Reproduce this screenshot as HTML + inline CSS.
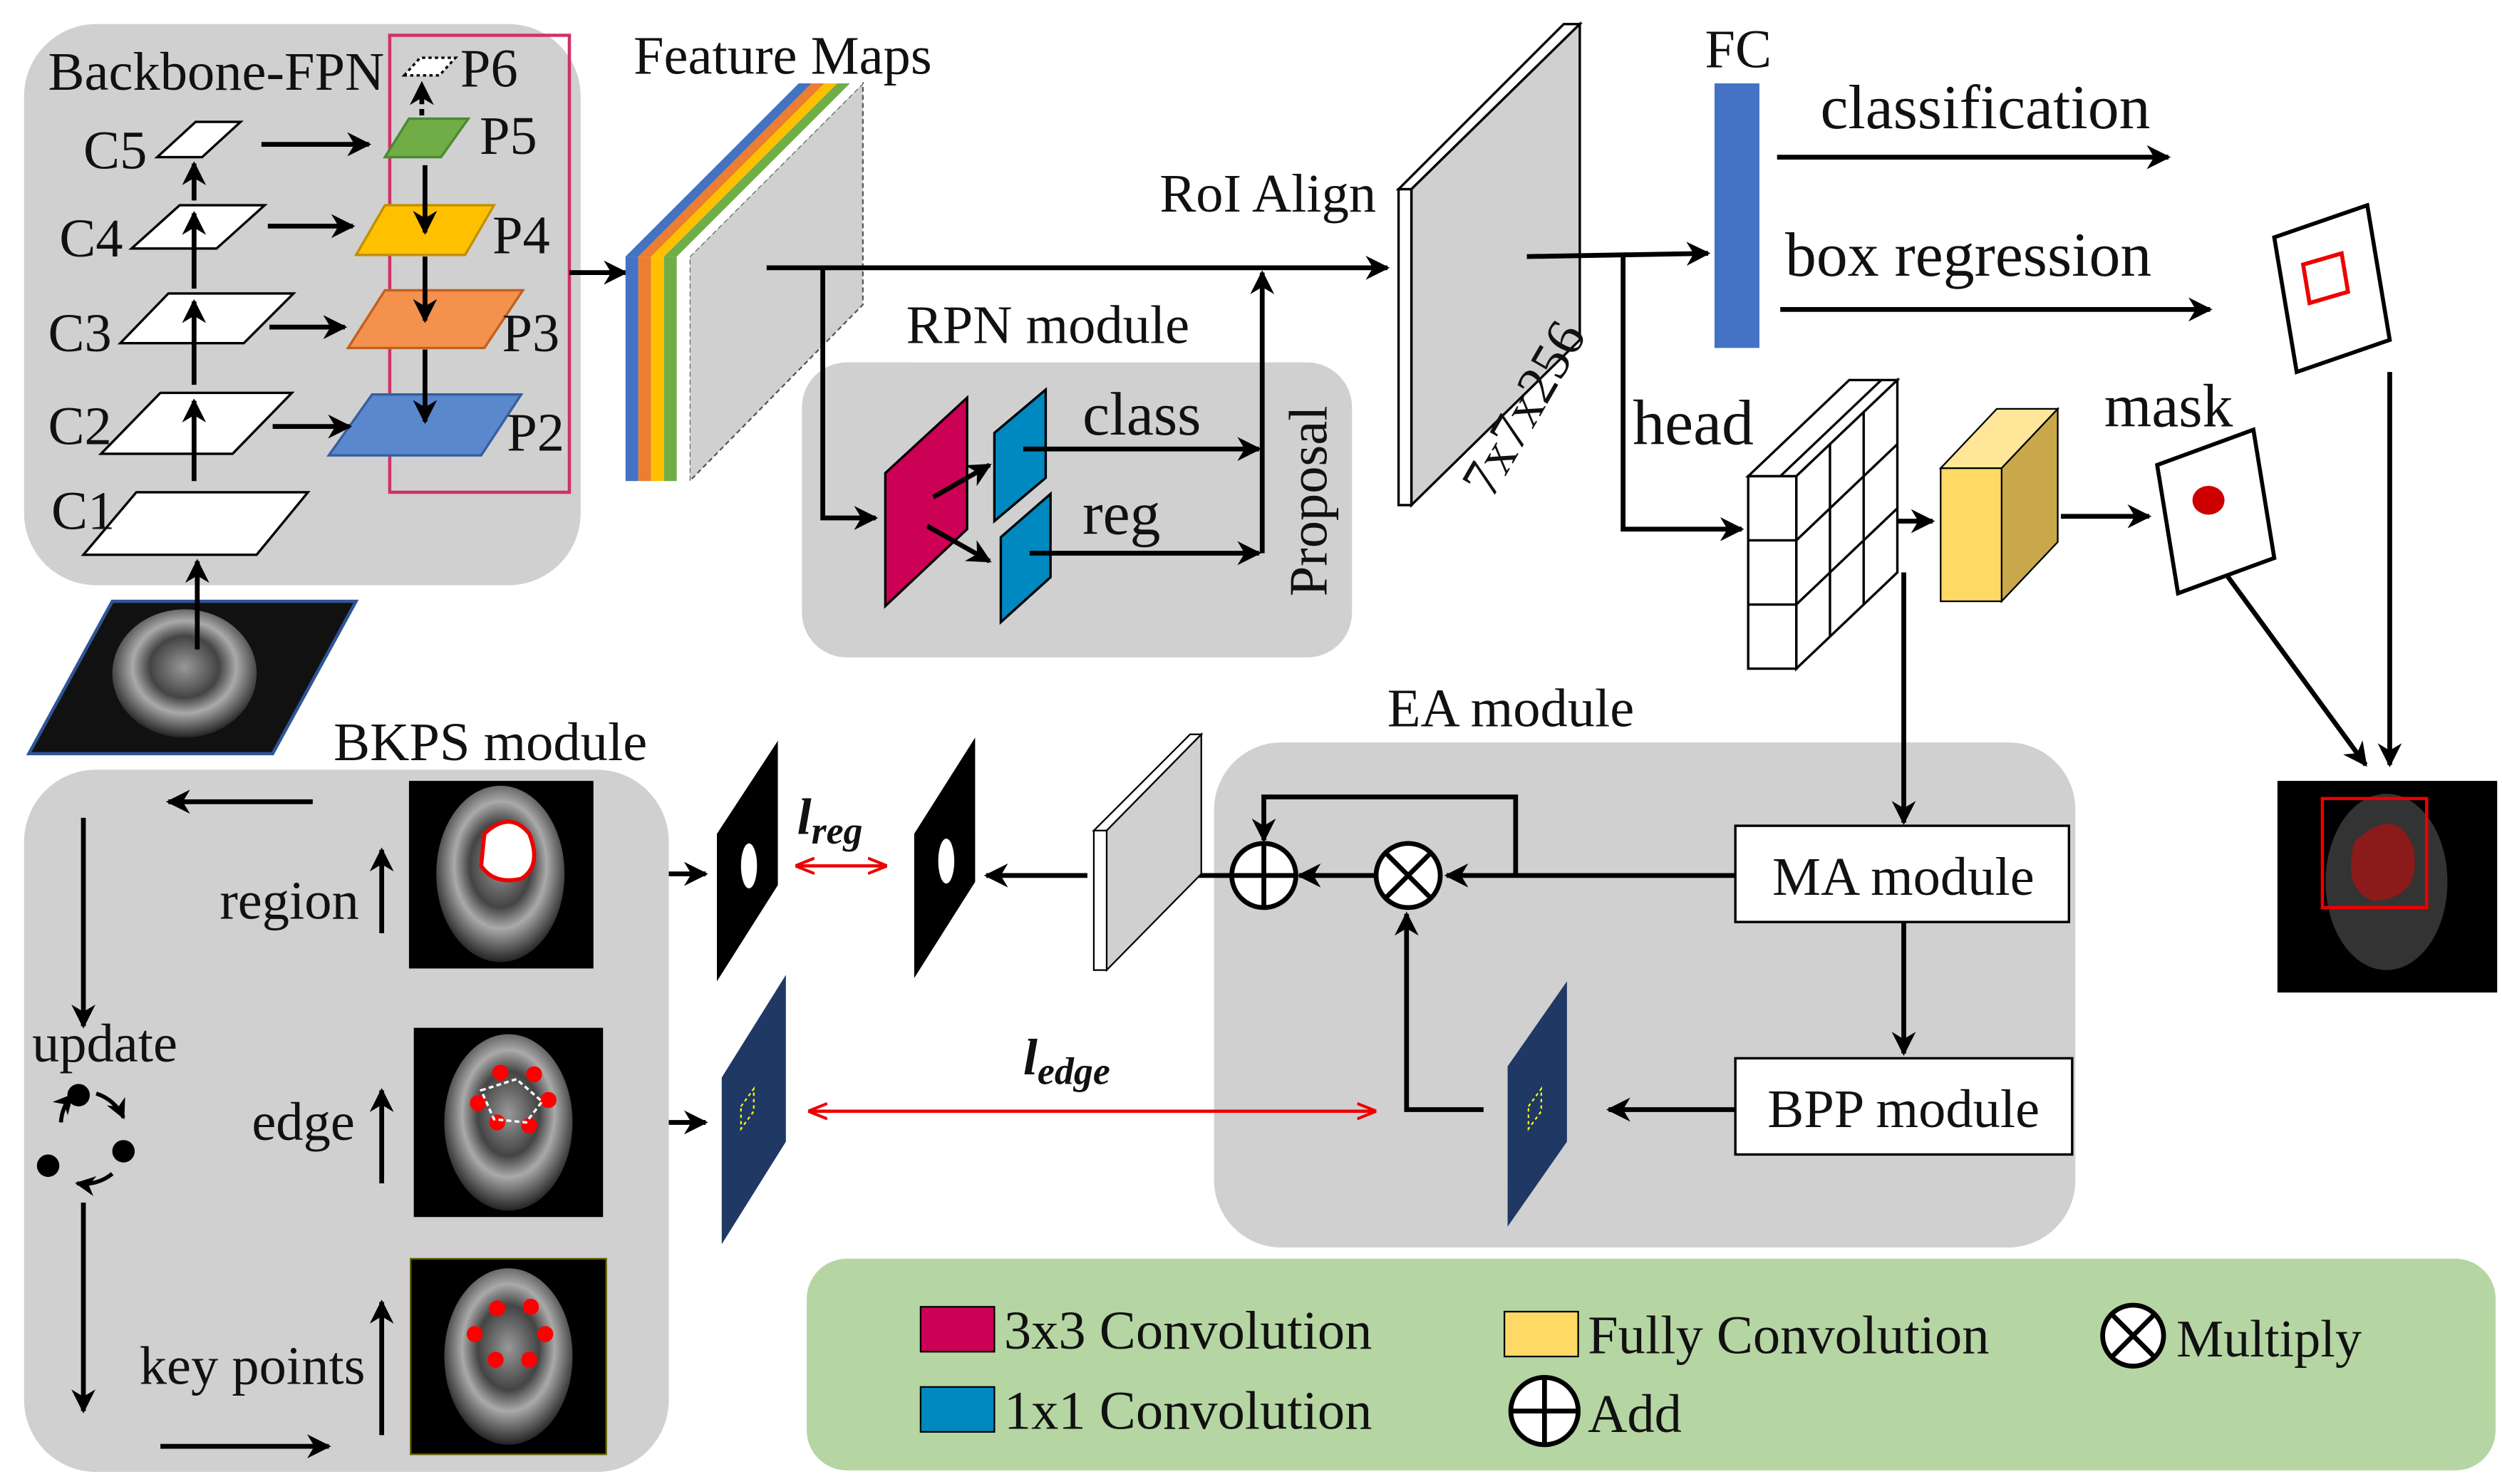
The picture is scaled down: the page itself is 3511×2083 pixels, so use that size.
<!DOCTYPE html>
<html><head><meta charset="utf-8"><style>
html,body{margin:0;padding:0;background:#fff}
svg{display:block}
text{font-family:"Liberation Serif",serif;fill:#111}
</style></head><body>
<svg width="3511" height="2083" viewBox="0 0 1560 925.5" xmlns="http://www.w3.org/2000/svg">
<defs>
<marker id="a" viewBox="0 0 10 10" refX="9" refY="5" markerWidth="5" markerHeight="5" orient="auto-start-reverse"><path d="M0,0 L10,5 L0,10 L3,5z" fill="#000"/></marker>
<marker id="r" viewBox="0 0 10 10" refX="9" refY="5" markerWidth="6" markerHeight="6" orient="auto-start-reverse"><path d="M0,1 L10,5 L0,9" fill="none" stroke="#e00" stroke-width="1.5"/></marker>
<radialGradient id="k" cx="0.5" cy="0.45" r="0.6"><stop offset="0" stop-color="#999"/><stop offset="0.4" stop-color="#444"/><stop offset="0.6" stop-color="#aaa"/><stop offset="1" stop-color="#000"/></radialGradient>
</defs>
<g stroke="#000" stroke-width="3" fill="none">
<!-- Backbone -->
<rect x="15" y="15" width="347" height="350" rx="45" fill="#d0d0d0" stroke="none"/>
<rect x="243" y="22" width="112" height="285" stroke="#d0306a" stroke-width="2"/>
<g stroke-width="1.5" fill="#fff">
<polygon points="98,98 122,76 150,76 126,98"/>
<polygon points="82,155 112,128 165,128 135,155"/>
<polygon points="75,214 105,183 183,183 152,214"/>
<polygon points="63,283 100,245 182,245 145,283"/>
<polygon points="52,346 85,307 192,307 160,346"/>
<polygon points="252,47 262,36 284,36 274,47" stroke-dasharray="2,2"/>
<polygon points="240,98 255,74 292,74 275,98" fill="#70ad47" stroke="#4a8a30"/>
<polygon points="222,159 240,128 308,128 290,159" fill="#ffc000" stroke="#c09000"/>
<polygon points="217,217 240,181 326,181 302,217" fill="#f4914d" stroke="#c06020"/>
<polygon points="205,284 232,246 325,246 300,284" fill="#5b87cc" stroke="#3560a0"/>
</g>
<polygon points="18,470 70,375 222,375 170,470" fill="#111" stroke="#2f5597" stroke-width="2"/>
<ellipse cx="115" cy="420" rx="45" ry="40" fill="url(#k)" stroke="none"/>
<g marker-end="url(#a)">
<line x1="123" y1="405" x2="123" y2="350"/>
<line x1="121" y1="300" x2="121" y2="250"/>
<line x1="121" y1="240" x2="121" y2="188"/>
<line x1="121" y1="180" x2="121" y2="133"/>
<line x1="121" y1="125" x2="121" y2="102"/>
<line x1="163" y1="90" x2="230" y2="90"/>
<line x1="167" y1="141" x2="220" y2="141"/>
<line x1="168" y1="204" x2="215" y2="204"/>
<line x1="170" y1="266" x2="218" y2="266"/>
<line x1="265" y1="103" x2="265" y2="145"/>
<line x1="265" y1="160" x2="265" y2="200"/>
<line x1="265" y1="218" x2="265" y2="263"/>
<line x1="263" y1="72" x2="263" y2="52" stroke-dasharray="4,3"/>
<line x1="355" y1="170" x2="390" y2="170"/>
</g>
<!-- feature maps -->
<polygon points="430,160 538,52 538,190 430,300" fill="#d0d0d0" stroke="#555" stroke-width="1" stroke-dasharray="3,2"/>
<g stroke="none">
<polygon points="390,160 498,52 506,52 398,160" fill="#4472c4"/><rect x="390" y="160" width="8" height="140" fill="#4472c4"/>
<polygon points="398,160 506,52 514,52 406,160" fill="#ed7d31"/><rect x="398" y="160" width="8" height="140" fill="#ed7d31"/>
<polygon points="406,160 514,52 522,52 414,160" fill="#ffc000"/><rect x="406" y="160" width="8" height="140" fill="#ffc000"/>
<polygon points="414,160 522,52 530,52 422,160" fill="#70ad47"/><rect x="414" y="160" width="8" height="140" fill="#70ad47"/>
<polygon points="422,160 530,52 538,52 430,160" fill="#fff"/><rect x="422" y="160" width="8" height="140" fill="#fff"/>
</g>
<!-- main -->
<polyline points="478,167 865,167" marker-end="url(#a)"/>
<rect x="500" y="226" width="343" height="184" rx="28" fill="#d0d0d0" stroke="none"/>
<polyline points="513,167 513,323 546,323" marker-end="url(#a)"/>
<polygon points="552,295 603,248 603,330 552,378" fill="#cc0055" stroke-width="1.5"/>
<polygon points="620,270 652,243 652,298 620,325" fill="#0088c0" stroke-width="1.5"/>
<polygon points="624,335 655,308 655,360 624,388" fill="#0088c0" stroke-width="1.5"/>
<g marker-end="url(#a)">
<line x1="582" y1="310" x2="617" y2="290"/>
<line x1="578" y1="328" x2="617" y2="350"/>
<line x1="638" y1="280" x2="785" y2="280"/>
<line x1="642" y1="345" x2="785" y2="345"/>
<line x1="787" y1="345" x2="787" y2="170"/>
</g>
<!-- RoI -->
<polygon points="872,118 975,15 985,15 880,118" fill="#fff" stroke-width="1.5"/>
<polygon points="880,118 985,15 985,212 880,315" fill="#d0d0d0" stroke-width="1.5"/>
<rect x="872" y="118" width="8" height="197" fill="#fff" stroke-width="1.5"/>
<rect x="1069" y="52" width="28" height="165" fill="#4472c4" stroke="none"/>
<g marker-end="url(#a)">
<polyline points="952,160 1065,158"/>
<polyline points="1012,160 1012,330 1086,330"/>
<line x1="1108" y1="98" x2="1352" y2="98"/>
<line x1="1110" y1="193" x2="1378" y2="193"/>
<line x1="1155" y1="325" x2="1205" y2="325"/>
<line x1="1285" y1="322" x2="1340" y2="322"/>
<line x1="1382" y1="350" x2="1475" y2="477"/>
<line x1="1490" y1="232" x2="1490" y2="477"/>
</g>
<polygon points="1418,148 1476,128 1490,212 1432,232" fill="#fff" stroke-width="2.5"/>
<polygon points="1436,165 1460,158 1464,182 1440,189" stroke="#e00" stroke-width="2.5"/>
<!-- grid cube -->
<g stroke-width="1.5">
<polygon points="1090,297 1153,237 1183,237 1120,297" fill="#fff"/>
<polygon points="1120,297 1183,237 1183,357 1120,417" fill="#fff"/>
<rect x="1090" y="297" width="30" height="120" fill="#fff"/>
<line x1="1141" y1="277" x2="1141" y2="397"/><line x1="1162" y1="257" x2="1162" y2="377"/>
<line x1="1120" y1="337" x2="1183" y2="277"/><line x1="1120" y1="377" x2="1183" y2="317"/>
<line x1="1090" y1="337" x2="1120" y2="337"/><line x1="1090" y1="377" x2="1120" y2="377"/>
<line x1="1110" y1="297" x2="1173" y2="237"/>
</g>
<g stroke-width="1">
<polygon points="1210,292 1245,255 1283,255 1248,292" fill="#ffe699"/>
<polygon points="1248,292 1283,255 1283,338 1248,375" fill="#c9a84c"/>
<rect x="1210" y="292" width="38" height="83" fill="#ffd966"/>
</g>
<polygon points="1345,290 1405,268 1418,348 1358,370" fill="#fff" stroke-width="2.5"/>
<ellipse cx="1377" cy="312" rx="10" ry="9" fill="#c00" stroke="none"/>
<rect x="1420" y="487" width="137" height="132" fill="#000" stroke="none"/>
<ellipse cx="1488" cy="550" rx="38" ry="55" fill="#333" stroke="none"/>
<path d="M1468,525 Q1495,500 1505,530 Q1510,560 1480,562 Q1460,555 1468,525z" fill="#8b1a1a" stroke="none"/>
<rect x="1448" y="498" width="65" height="68" stroke="#e00" stroke-width="2"/>
<!-- EA -->
<rect x="757" y="463" width="537" height="315" rx="42" fill="#d0d0d0" stroke="none"/>
<line x1="1187" y1="357" x2="1187" y2="513" marker-end="url(#a)"/>
<rect x="1082" y="515" width="208" height="60" fill="#fff" stroke-width="1.5"/>
<rect x="1082" y="660" width="210" height="60" fill="#fff" stroke-width="1.5"/>
<polygon points="940,665 977,612 977,712 940,765" fill="#1f3864" stroke="none"/>
<polygon points="953,690 961,679 961,693 953,704" stroke="#ff0" stroke-width="1" stroke-dasharray="2,2"/>
<g marker-end="url(#a)">
<line x1="1187" y1="575" x2="1187" y2="657"/>
<line x1="1082" y1="692" x2="1003" y2="692"/>
<polyline points="925,692 877,692 877,570"/>
<line x1="1082" y1="546" x2="902" y2="546"/>
<polyline points="945,546 945,497 788,497 788,524"/>
<line x1="858" y1="546" x2="810" y2="546"/>
<line x1="768" y1="546" x2="722" y2="546"/>
<line x1="678" y1="546" x2="615" y2="546"/>
<line x1="372" y1="545" x2="440" y2="545"/>
<line x1="377" y1="700" x2="440" y2="700"/>
</g>
<circle cx="878" cy="546" r="20" fill="#fff"/>
<line x1="864" y1="532" x2="892" y2="560"/><line x1="892" y1="532" x2="864" y2="560"/>
<circle cx="788" cy="546" r="20" fill="#fff"/>
<line x1="768" y1="546" x2="808" y2="546"/><line x1="788" y1="526" x2="788" y2="566"/>
<polygon points="682,518 742,458 749,458 690,518" fill="#fff" stroke-width="1"/>
<polygon points="690,518 749,458 749,545 690,605" fill="#d0d0d0" stroke-width="1"/>
<rect x="682" y="518" width="8" height="87" fill="#fff" stroke-width="1"/>
<polygon points="570,520 608,460 608,550 570,610" fill="#000" stroke="none"/>
<ellipse cx="590" cy="537" rx="5" ry="14" fill="#fff" stroke="none"/>
<polygon points="447,520 485,462 485,552 447,612" fill="#000" stroke="none"/>
<ellipse cx="467" cy="540" rx="5" ry="14" fill="#fff" stroke="none"/>
<polygon points="450,672 490,608 490,712 450,776" fill="#1f3864" stroke="none"/>
<polygon points="462,690 470,679 470,693 462,704" stroke="#ff0" stroke-width="1" stroke-dasharray="2,2"/>
<line x1="497" y1="540" x2="552" y2="540" stroke="#e00" stroke-width="2" marker-start="url(#r)" marker-end="url(#r)"/>
<line x1="505" y1="693" x2="857" y2="693" stroke="#e00" stroke-width="2" marker-start="url(#r)" marker-end="url(#r)"/>
<!-- BKPS -->
<rect x="15" y="480" width="402" height="438" rx="45" fill="#d0d0d0" stroke="none"/>
<rect x="255" y="487" width="115" height="117" fill="#000" stroke="none"/>
<ellipse cx="312" cy="545" rx="40" ry="55" fill="url(#k)" stroke="none"/>
<path d="M302,520 Q318,505 330,520 Q338,540 325,548 Q308,552 300,540z" fill="#fff" stroke="#e00" stroke-width="2.5"/>
<rect x="258" y="641" width="118" height="118" fill="#000" stroke="none"/>
<ellipse cx="317" cy="700" rx="40" ry="55" fill="url(#k)" stroke="none"/>
<rect x="256" y="785" width="122" height="122" fill="#000" stroke="#660" stroke-width="1"/>
<ellipse cx="317" cy="846" rx="40" ry="55" fill="url(#k)" stroke="none"/>
<g fill="#f00" stroke="none">
<circle cx="312" cy="669" r="5"/><circle cx="333" cy="670" r="5"/><circle cx="342" cy="686" r="5"/><circle cx="330" cy="702" r="5"/><circle cx="310" cy="700" r="5"/><circle cx="298" cy="688" r="5"/>
<circle cx="310" cy="816" r="5"/><circle cx="331" cy="815" r="5"/><circle cx="340" cy="832" r="5"/><circle cx="330" cy="848" r="5"/><circle cx="309" cy="848" r="5"/><circle cx="296" cy="832" r="5"/>
</g>
<polygon points="300,680 322,673 338,687 328,700 308,698" stroke="#fff" stroke-width="1.5" stroke-dasharray="3,2"/>
<g marker-end="url(#a)">
<line x1="195" y1="500" x2="105" y2="500"/>
<line x1="52" y1="510" x2="52" y2="640"/>
<line x1="52" y1="750" x2="52" y2="880"/>
<line x1="100" y1="902" x2="205" y2="902"/>
<line x1="238" y1="582" x2="238" y2="530"/>
<line x1="238" y1="738" x2="238" y2="680"/>
<line x1="238" y1="895" x2="238" y2="812"/>
</g>
<g stroke-width="2.5" marker-end="url(#a)">
<path d="M38,700 A28,28 0 0 1 45,683"/>
<path d="M60,682 A28,28 0 0 1 77,697"/>
<path d="M70,732 A28,28 0 0 1 48,738"/>
</g>
<circle cx="49" cy="683" r="7" fill="#000" stroke="none"/><circle cx="77" cy="718" r="7" fill="#000" stroke="none"/><circle cx="30" cy="727" r="7" fill="#000" stroke="none"/>
<!-- legend -->
<rect x="503" y="785" width="1053" height="132" rx="25" fill="#b5d5a3" stroke="none"/>
<rect x="574" y="815" width="46" height="28" fill="#cc0055" stroke-width="1"/>
<rect x="574" y="865" width="46" height="28" fill="#0088c0" stroke-width="1"/>
<rect x="938" y="818" width="46" height="28" fill="#ffd966" stroke-width="1"/>
<circle cx="1330" cy="833" r="19" fill="#fff" stroke-width="3"/>
<line x1="1317" y1="820" x2="1343" y2="846"/><line x1="1343" y1="820" x2="1317" y2="846"/>
<circle cx="963" cy="880" r="21" fill="#fff" stroke-width="3"/>
<line x1="942" y1="880" x2="984" y2="880"/><line x1="963" y1="859" x2="963" y2="901"/>
</g>
<g font-size="34">
<text x="30" y="56">Backbone-FPN</text>
<text x="52" y="105">C5</text><text x="37" y="160">C4</text><text x="30" y="219">C3</text><text x="30" y="277">C2</text><text x="32" y="330">C1</text>
<text x="287" y="54">P6</text><text x="299" y="96">P5</text><text x="307" y="158">P4</text><text x="313" y="219">P3</text><text x="316" y="281">P2</text>
<text x="395" y="46">Feature Maps</text>
<text x="723" y="132">RoI Align</text>
<text x="565" y="214">RPN module</text>
<text x="675" y="271" font-size="38">class</text>
<text x="675" y="333" font-size="38">reg</text>
<text transform="translate(827,372) rotate(-90)">Proposal</text>
<text transform="translate(930,312) rotate(-60)">7x7x256</text>
<text x="1063" y="42">FC</text>
<text x="1135" y="80" font-size="39">classification</text>
<text x="1113" y="172" font-size="39">box regression</text>
<text x="1018" y="277" font-size="40">head</text>
<text x="1312" y="266" font-size="38">mask</text>
<text x="865" y="453">EA module</text>
<text x="1105" y="558">MA module</text>
<text x="1102" y="703">BPP module</text>
<text x="208" y="474">BKPS module</text>
<text x="137" y="573">region</text>
<text x="157" y="711">edge</text>
<text x="20" y="662">update</text>
<text x="87" y="863">key points</text>
<text x="497" y="520" font-weight="bold" font-style="italic" font-size="32">l<tspan font-size="24" dy="6">reg</tspan></text>
<text x="638" y="670" font-weight="bold" font-style="italic" font-size="32">l<tspan font-size="24" dy="6">edge</tspan></text>
<text x="626" y="841">3x3 Convolution</text>
<text x="626" y="891">1x1 Convolution</text>
<text x="990" y="844">Fully Convolution</text>
<text x="990" y="893">Add</text>
<text x="1357" y="846" font-size="33">Multiply</text>
</g>
</svg>
</body></html>
